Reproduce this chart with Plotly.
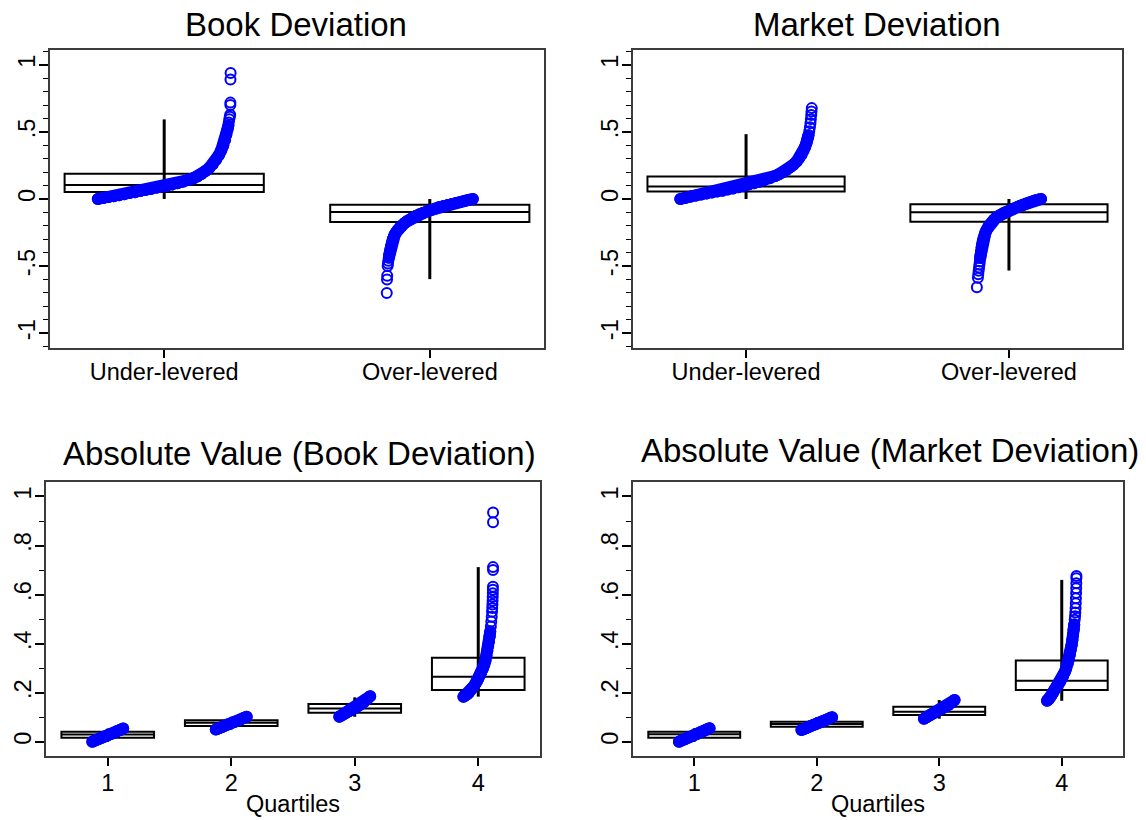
import plotly.graph_objects as go

# ---------------- data ----------------
dev_groups = ["Under-levered", "Over-levered"]
quartiles = [1, 2, 3, 4]

# box summaries: lower quartile, median, upper quartile, spike low/high
book_q1 = [0.052, -0.171]
book_med = [0.104, -0.097]
book_q3 = [0.188, -0.042]
book_lo = [0.0, -0.597]
book_hi = [0.593, 0.0]

mkt_q1 = [0.055, -0.169]
mkt_med = [0.094, -0.099]
mkt_q3 = [0.168, -0.040]
mkt_lo = [0.0, -0.533]
mkt_hi = [0.483, 0.0]

abs_book_q1 = [0.016, 0.064, 0.118, 0.211]
abs_book_med = [0.030, 0.078, 0.136, 0.265]
abs_book_q3 = [0.041, 0.088, 0.154, 0.343]
abs_book_lo = [0.0, 0.050, 0.102, 0.184]
abs_book_hi = [0.054, 0.102, 0.181, 0.712]

abs_mkt_q1 = [0.016, 0.061, 0.109, 0.211]
abs_mkt_med = [0.031, 0.072, 0.122, 0.249]
abs_mkt_q3 = [0.041, 0.082, 0.143, 0.331]
abs_mkt_lo = [0.0, 0.048, 0.094, 0.167]
abs_mkt_hi = [0.055, 0.100, 0.170, 0.660]

# sorted observations: percentile rank and value
book_under_pct = [0.000, 0.040, 0.080, 0.120, 0.160, 0.200, 0.240, 0.280, 0.320, 0.360,
                  0.400, 0.440, 0.480, 0.520, 0.560, 0.600, 0.640, 0.680, 0.720, 0.750,
                  0.780, 0.810, 0.840, 0.865, 0.890, 0.910, 0.930, 0.945, 0.958, 0.968,
                  0.976, 0.983, 0.986, 0.990, 0.994, 0.997, 0.998, 0.9985, 0.999, 1.000]
book_under_val = [0.000, 0.007, 0.014, 0.021, 0.028, 0.036, 0.044, 0.051, 0.059, 0.067,
                  0.075, 0.083, 0.091, 0.099, 0.108, 0.118, 0.129, 0.141, 0.155, 0.168,
                  0.187, 0.208, 0.232, 0.258, 0.292, 0.325, 0.365, 0.400, 0.440, 0.480,
                  0.515, 0.545, 0.570, 0.595, 0.612, 0.628, 0.700, 0.718, 0.890, 0.938]

book_over_pct = [0.000, 0.003, 0.005, 0.010, 0.014, 0.018, 0.024, 0.028,
                 0.034, 0.042, 0.050, 0.060, 0.070, 0.082, 0.095, 0.109, 0.125, 0.147,
                 0.170, 0.205, 0.235, 0.264, 0.300, 0.341, 0.380, 0.419, 0.465, 0.516,
                 0.565, 0.612, 0.660, 0.709, 0.758, 0.806, 0.855, 0.903, 0.950, 1.000]
book_over_val = [-0.700, -0.600, -0.572, -0.500, -0.480, -0.460, -0.438, -0.420,
                 -0.400, -0.375, -0.350, -0.325, -0.300, -0.280, -0.262, -0.248, -0.232, -0.216,
                 -0.200, -0.180, -0.166, -0.154, -0.140, -0.125, -0.114, -0.104, -0.093, -0.082,
                 -0.071, -0.060, -0.052, -0.045, -0.037, -0.030, -0.022, -0.015, -0.007, 0.000]

mkt_under_pct = [0.000, 0.040, 0.080, 0.120, 0.160, 0.200, 0.240, 0.280, 0.320, 0.360,
                 0.400, 0.440, 0.480, 0.520, 0.560, 0.600, 0.640, 0.680, 0.720, 0.750,
                 0.780, 0.810, 0.835, 0.860, 0.885, 0.905, 0.922, 0.937, 0.950, 0.960,
                 0.968, 0.975, 0.981, 0.986, 0.990, 0.993, 0.996, 0.998, 1.000]
mkt_under_val = [0.000, 0.009, 0.018, 0.026, 0.034, 0.041, 0.048, 0.055, 0.062, 0.070,
                 0.078, 0.087, 0.097, 0.108, 0.118, 0.129, 0.141, 0.155, 0.171, 0.184,
                 0.199, 0.218, 0.236, 0.256, 0.280, 0.305, 0.330, 0.360, 0.390, 0.420,
                 0.450, 0.475, 0.505, 0.535, 0.565, 0.595, 0.625, 0.652, 0.677]

mkt_over_pct = [0.000, 0.016, 0.022, 0.028, 0.034, 0.040, 0.046,
                0.052, 0.058, 0.066, 0.074, 0.082, 0.092, 0.104, 0.118, 0.134, 0.152,
                0.172, 0.195, 0.220, 0.245, 0.270, 0.300, 0.335, 0.370, 0.410, 0.455,
                0.500, 0.545, 0.590, 0.635, 0.680, 0.725, 0.770, 0.815, 0.860, 0.905,
                0.950, 1.000]
mkt_over_val = [-0.657, -0.587, -0.560, -0.535, -0.510, -0.488, -0.465,
                -0.440, -0.415, -0.390, -0.362, -0.338, -0.315, -0.293, -0.272, -0.250, -0.230,
                -0.212, -0.195, -0.180, -0.165, -0.152, -0.140, -0.128, -0.117, -0.106, -0.096,
                -0.087, -0.078, -0.068, -0.059, -0.050, -0.042, -0.034, -0.026, -0.019, -0.012,
                -0.006, 0.000]

q_pct = [0.0, 0.1, 0.2, 0.3, 0.4, 0.5, 0.6, 0.7, 0.8, 0.9, 1.0]
abs_book_q1_val = [0.000, 0.006, 0.011, 0.016, 0.021, 0.027, 0.032, 0.037, 0.043, 0.048, 0.054]
abs_book_q2_val = [0.050, 0.055, 0.060, 0.066, 0.071, 0.076, 0.081, 0.086, 0.091, 0.097, 0.102]
abs_book_q3_val = [0.102, 0.109, 0.116, 0.123, 0.130, 0.137, 0.145, 0.153, 0.162, 0.173, 0.186]
abs_mkt_q1_val = [0.000, 0.006, 0.011, 0.017, 0.022, 0.028, 0.033, 0.039, 0.044, 0.050, 0.055]
abs_mkt_q2_val = [0.048, 0.053, 0.058, 0.064, 0.069, 0.074, 0.079, 0.084, 0.089, 0.095, 0.100]
abs_mkt_q3_val = [0.094, 0.101, 0.108, 0.115, 0.122, 0.129, 0.136, 0.143, 0.150, 0.159, 0.170]

abs_book_q4_pct = [0.000, 0.050, 0.100, 0.150, 0.200, 0.250, 0.300, 0.350, 0.400, 0.450,
                   0.500, 0.550, 0.600, 0.650, 0.700, 0.740, 0.775, 0.805, 0.835, 0.860,
                   0.885, 0.905, 0.925, 0.940, 0.955, 0.965, 0.972, 0.978, 0.983, 0.987,
                   0.991, 0.994, 0.996, 0.998, 0.9985, 0.999, 1.000]
abs_book_q4_val = [0.184, 0.188, 0.192, 0.196, 0.203, 0.211, 0.219, 0.226, 0.236, 0.246,
                   0.257, 0.270, 0.283, 0.297, 0.313, 0.330, 0.350, 0.370, 0.390, 0.410,
                   0.430, 0.450, 0.470, 0.490, 0.510, 0.530, 0.545, 0.560, 0.575, 0.590,
                   0.605, 0.620, 0.632, 0.700, 0.712, 0.895, 0.935]

abs_mkt_q4_pct = [0.000, 0.050, 0.100, 0.150, 0.200, 0.250, 0.300, 0.350, 0.400, 0.450,
                  0.500, 0.550, 0.600, 0.650, 0.700, 0.740, 0.775, 0.805, 0.835, 0.860,
                  0.885, 0.905, 0.925, 0.940, 0.952, 0.962, 0.970, 0.977, 0.983, 0.988,
                  0.992, 0.995, 0.998, 1.000]
abs_mkt_q4_val = [0.167, 0.172, 0.180, 0.190, 0.200, 0.211, 0.219, 0.228, 0.237, 0.247,
                  0.258, 0.270, 0.284, 0.300, 0.318, 0.336, 0.355, 0.375, 0.395, 0.415,
                  0.436, 0.457, 0.478, 0.497, 0.512, 0.527, 0.544, 0.565, 0.585, 0.606,
                  0.626, 0.646, 0.667, 0.676]

titles = ["Book Deviation", "Market Deviation",
          "Absolute Value (Book Deviation)", "Absolute Value (Market Deviation)"]

# ---------------- styling ----------------
W, H = 1146, 820
FONT = "Liberation Sans, Arial, Helvetica, sans-serif"
BLUE = "#0000ff"
FRAME = "#3c3c3c"
TICK_SIZE = 23.5

# panel frames in pixels: (left, right, top, bottom)
frames = {
    1: (50, 544, 50, 348),
    2: (633, 1122, 50, 348),
    3: (46, 540, 482, 756),
    4: (633, 1123, 482, 756),
}

fig = go.Figure()


def ax(n, name):
    return name if n == 1 else f"{name}{n}"


def add_boxes(n, pos, q1, med, q3, lo, hi):
    fig.add_trace(go.Box(
        x=pos, q1=q1, median=med, q3=q3, lowerfence=q1, upperfence=q3,
        width=0.75, whiskerwidth=0, fillcolor="white", boxpoints=False,
        line=dict(color="black", width=2),
        xaxis=ax(n, "x"), yaxis=ax(n, "y"), showlegend=False, hoverinfo="skip"))
    # vertical spike from low to high value
    xs, ys = [], []
    for p, a, b in zip(pos, lo, hi):
        xs += [p, p, None]
        ys += [a, b, None]
    fig.add_trace(go.Scatter(
        x=xs, y=ys, mode="lines", line=dict(color="black", width=3),
        xaxis=ax(n, "x"), yaxis=ax(n, "y"), showlegend=False, hoverinfo="skip"))


def add_obs(n, center, half, pct, vals, solid_to, rising=True):
    xs = [center + (p - 0.5) * 2 * half for p in pct]
    if rising:
        body = [i for i, v in enumerate(vals) if v <= solid_to]
    else:
        body = [i for i, v in enumerate(vals) if v >= solid_to]
    # dense run of overlapping circles
    fig.add_trace(go.Scatter(
        x=[xs[i] for i in body], y=[vals[i] for i in body], mode="lines+markers",
        line=dict(color=BLUE, width=12), marker=dict(symbol="circle", size=12, color=BLUE),
        xaxis=ax(n, "x"), yaxis=ax(n, "y"), showlegend=False, hoverinfo="skip"))
    fig.add_trace(go.Scatter(
        x=xs, y=vals, mode="markers",
        marker=dict(symbol="circle-open", size=10, color=BLUE, line=dict(width=2, color=BLUE)),
        xaxis=ax(n, "x"), yaxis=ax(n, "y"), showlegend=False, hoverinfo="skip"))


# boxes and spikes first, observations drawn over them
add_boxes(1, [1, 2], book_q1, book_med, book_q3, book_lo, book_hi)
add_boxes(2, [1, 2], mkt_q1, mkt_med, mkt_q3, mkt_lo, mkt_hi)
add_boxes(3, quartiles, abs_book_q1, abs_book_med, abs_book_q3, abs_book_lo, abs_book_hi)
add_boxes(4, quartiles, abs_mkt_q1, abs_mkt_med, abs_mkt_q3, abs_mkt_lo, abs_mkt_hi)

# top row: signed deviations
add_obs(1, 1, 0.25, book_under_pct, book_under_val, 0.56)
add_obs(1, 2, 0.162, book_over_pct, book_over_val, -0.44, rising=False)
add_obs(2, 1, 0.25, mkt_under_pct, mkt_under_val, 0.48)
add_obs(2, 2, 0.122, mkt_over_pct, mkt_over_val, -0.44, rising=False)

# bottom row: absolute deviations by quartile
for q, vals in zip(quartiles[:3], [abs_book_q1_val, abs_book_q2_val, abs_book_q3_val]):
    add_obs(3, q, 0.125, q_pct, vals, 1.0)
add_obs(3, 4, 0.12, abs_book_q4_pct, abs_book_q4_val, 0.46)
for q, vals in zip(quartiles[:3], [abs_mkt_q1_val, abs_mkt_q2_val, abs_mkt_q3_val]):
    add_obs(4, q, 0.125, q_pct, vals, 1.0)
add_obs(4, 4, 0.12, abs_mkt_q4_pct, abs_mkt_q4_val, 0.48)

# ---------------- axes ----------------
tick_font = dict(family=FONT, size=TICK_SIZE, color="black")
layout = dict(
    width=W, height=H, margin=dict(l=0, r=0, t=0, b=0),
    paper_bgcolor="white", plot_bgcolor="white", boxmode="overlay",
    font=dict(family=FONT, color="black"), showlegend=False,
)

for n, (l, r, t, b) in frames.items():
    xd = [l / W, r / W]
    yd = [1 - b / H, 1 - t / H]
    common = dict(showline=True, mirror=True, linecolor=FRAME, linewidth=2,
                  showgrid=False, zeroline=False, ticks="outside", tickcolor="black",
                  tickwidth=1.5, tickfont=tick_font)
    minor = dict(tickmode="linear", tick0=0, dtick=0.1, ticks="outside",
                 ticklen=5, tickwidth=1.2, tickcolor="black")
    if n <= 2:
        xa = dict(domain=xd, range=[0.57, 2.43], tickmode="array", tickvals=[1, 2],
                  ticktext=dev_groups, ticklen=8, ticklabelstandoff=-6,
                  anchor=ax(n, "y"), **common)
        ya = dict(domain=yd, range=[-1.11, 1.11], tickmode="array",
                  tickvals=[-1, -0.5, 0, 0.5, 1], ticktext=["-1", "-.5", "0", ".5", "1"],
                  ticklen=9, tickangle=-90, ticklabelstandoff=-5, anchor=ax(n, "x"),
                  minor=minor, **common)
    else:
        xa = dict(domain=xd, range=[0.5, 4.5], tickmode="array", tickvals=quartiles,
                  ticktext=[str(q) for q in quartiles], ticklen=8, ticklabelstandoff=-3,
                  anchor=ax(n, "y"),
                  title=dict(text="Quartiles", font=tick_font, standoff=0), **common)
        ya = dict(domain=yd, range=[-0.058, 1.059], tickmode="array",
                  tickvals=[0, 0.2, 0.4, 0.6, 0.8, 1], ticktext=["0", ".2", ".4", ".6", ".8", "1"],
                  ticklen=9, tickangle=-90, ticklabelstandoff=-5, anchor=ax(n, "x"),
                  minor=minor, **common)
    layout["xaxis" if n == 1 else f"xaxis{n}"] = xa
    layout["yaxis" if n == 1 else f"yaxis{n}"] = ya

fig.update_layout(**layout)

# panel titles
title_pos = [(296, 24), (877, 24), (299, 453), (890, 450)]
for text, (cx, cy) in zip(titles, title_pos):
    fig.add_annotation(text=text, x=cx / W, y=1 - cy / H, xref="paper", yref="paper",
                       xanchor="center", yanchor="middle", showarrow=False,
                       font=dict(family=FONT, size=33, color="black"))

fig.write_html("out.html")
